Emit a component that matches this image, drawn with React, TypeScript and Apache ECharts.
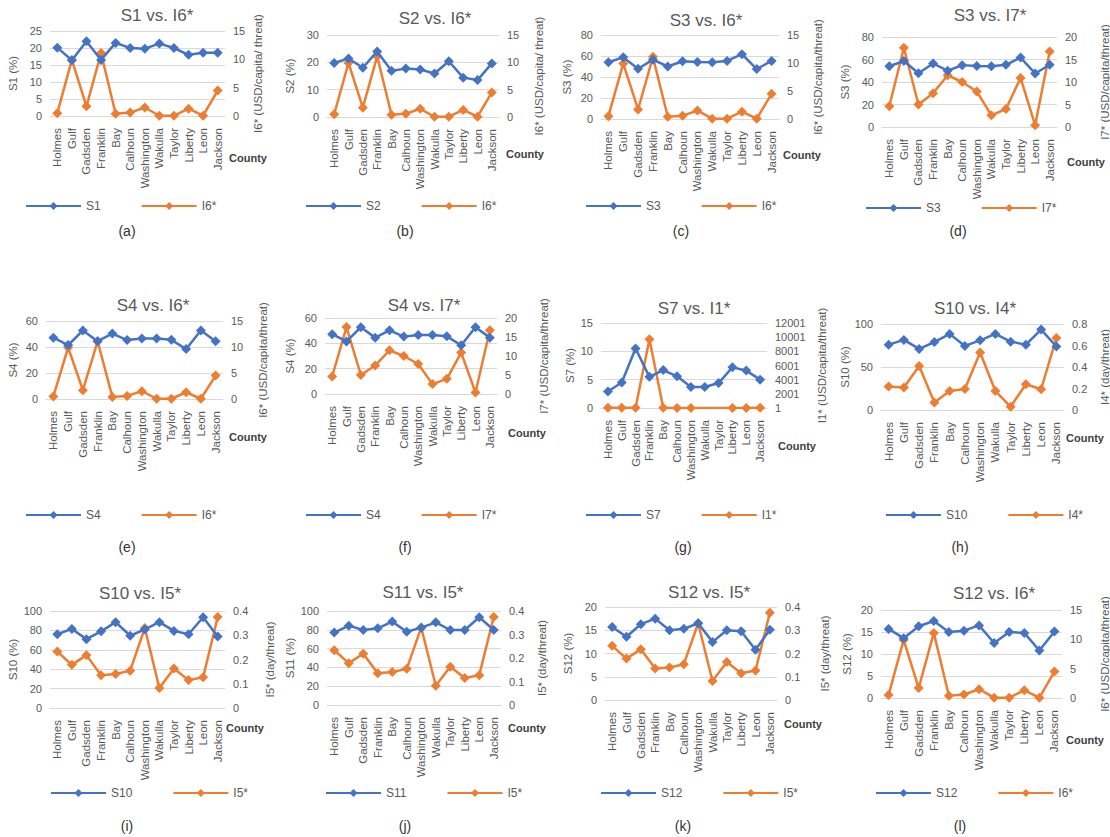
import React, { useEffect, useRef } from "react";
import * as echarts from "echarts";

const categories = ["Holmes", "Gulf", "Gadsden", "Franklin", "Bay", "Calhoun", "Washington", "Wakulla", "Taylor", "Liberty", "Leon", "Jackson"];

const S1 = [20.1, 16.4, 22, 16.5, 21.5, 20, 19.8, 21.3, 20, 18, 18.6, 18.6];
const S2 = [19.8, 21.4, 18, 24, 16.9, 17.7, 17.4, 15.9, 20.4, 14.4, 13.5, 19.6];
const S3 = [54, 58.7, 47.8, 56.5, 50, 55, 54.2, 54, 55.3, 61.7, 47.6, 55.3];
const S4 = [47.2, 41.5, 52.7, 44.5, 50.3, 45.3, 46.5, 46.5, 45.5, 38.5, 52.7, 44.5];
const S7 = [2.9, 4.5, 10.5, 5.5, 6.7, 5.6, 3.7, 3.7, 4.4, 7.2, 6.6, 5];
const S10 = [76, 81.5, 71, 79, 88.5, 74.5, 81, 88.5, 79.5, 76, 93.5, 73.8];
const S11 = [77, 84.4, 79.8, 81.6, 88.7, 78, 82.3, 87.9, 79.8, 79.8, 93.3, 79.8];
const S12 = [15.7, 13.6, 16.3, 17.5, 15, 15.3, 16.5, 12.5, 15, 14.8, 10.8, 15.1];

const I1 = [20, 30, 40, 9700, 20, 15, 10, null, null, 10, 15, 20];
const I4 = [0.218, 0.21, 0.41, 0.07, 0.177, 0.196, 0.535, 0.177, 0.03, 0.24, 0.193, 0.67];
const I5 = [0.233, 0.178, 0.218, 0.135, 0.14, 0.154, 0.33, 0.082, 0.163, 0.115, 0.127, 0.375];
const I6 = [0.5, 9.9, 1.7, 11.1, 0.4, 0.6, 1.5, 0.05, 0.05, 1.3, 0.05, 4.5];
const I7 = [4.6, 17.6, 5, 7.5, 11.5, 10, 7.9, 2.6, 4, 10.9, 0.4, 16.8];

const panelLabels = ["(a)", "(b)", "(c)", "(d)", "(e)", "(f)", "(g)", "(h)", "(i)", "(j)", "(k)", "(l)"];

type Panel = {
  title: string; lname: string; ldata: (number | null)[]; rname: string; rdata: (number | null)[];
  lmin: number; lmax: number; lint: number; rmin: number; rmax: number; rint: number;
  lAxis: string; rAxis: string;
};

const panels: Panel[] = [
  { title: "S1 vs. I6*", lname: "S1", ldata: S1, rname: "I6*", rdata: I6, lmin: 0, lmax: 25, lint: 5, rmin: 0, rmax: 15, rint: 5, lAxis: "S1 (%)", rAxis: "I6* (USD/capita/ threat)" },
  { title: "S2 vs. I6*", lname: "S2", ldata: S2, rname: "I6*", rdata: I6, lmin: 0, lmax: 30, lint: 10, rmin: 0, rmax: 15, rint: 5, lAxis: "S2 (%)", rAxis: "I6* (USD/capita/ threat)" },
  { title: "S3 vs. I6*", lname: "S3", ldata: S3, rname: "I6*", rdata: I6, lmin: 0, lmax: 80, lint: 20, rmin: 0, rmax: 15, rint: 5, lAxis: "S3 (%)", rAxis: "I6* (USD/capita/threat)" },
  { title: "S3 vs. I7*", lname: "S3", ldata: S3, rname: "I7*", rdata: I7, lmin: 0, lmax: 80, lint: 20, rmin: 0, rmax: 20, rint: 5, lAxis: "S3 (%)", rAxis: "I7* (USD/capita/threat)" },
  { title: "S4 vs. I6*", lname: "S4", ldata: S4, rname: "I6*", rdata: I6, lmin: 0, lmax: 60, lint: 20, rmin: 0, rmax: 15, rint: 5, lAxis: "S4 (%)", rAxis: "I6* (USD/capita/threat)" },
  { title: "S4 vs. I7*", lname: "S4", ldata: S4, rname: "I7*", rdata: I7, lmin: 0, lmax: 60, lint: 20, rmin: 0, rmax: 20, rint: 5, lAxis: "S4 (%)", rAxis: "I7* (USD/capita/threat)" },
  { title: "S7 vs. I1*", lname: "S7", ldata: S7, rname: "I1*", rdata: I1, lmin: 0, lmax: 15, lint: 5, rmin: 1, rmax: 12001, rint: 2000, lAxis: "S7 (%)", rAxis: "I1* (USD/capita/threat)" },
  { title: "S10 vs. I4*", lname: "S10", ldata: S10, rname: "I4*", rdata: I4, lmin: 0, lmax: 100, lint: 50, rmin: 0, rmax: 0.8, rint: 0.2, lAxis: "S10 (%)", rAxis: "I4* (day/threat)" },
  { title: "S10 vs. I5*", lname: "S10", ldata: S10, rname: "I5*", rdata: I5, lmin: 0, lmax: 100, lint: 20, rmin: 0, rmax: 0.4, rint: 0.1, lAxis: "S10 (%)", rAxis: "I5* (day/threat)" },
  { title: "S11 vs. I5*", lname: "S11", ldata: S11, rname: "I5*", rdata: I5, lmin: 0, lmax: 100, lint: 20, rmin: 0, rmax: 0.4, rint: 0.1, lAxis: "S11 (%)", rAxis: "I5* (day/threat)" },
  { title: "S12 vs. I5*", lname: "S12", ldata: S12, rname: "I5*", rdata: I5, lmin: 0, lmax: 20, lint: 5, rmin: 0, rmax: 0.4, rint: 0.1, lAxis: "S12 (%)", rAxis: "I5* (day/threat)" },
  { title: "S12 vs. I6*", lname: "S12", ldata: S12, rname: "I6*", rdata: I6, lmin: 0, lmax: 20, lint: 5, rmin: 0, rmax: 15, rint: 5, lAxis: "S12 (%)", rAxis: "I6* (USD/capita/threat)" },
];

// layout: grid box, title pos, legend pos, County pos, sub-label pos, axis name gaps
const layout = [
  { l: 50, t: 31, w: 175, b: 116, tx: 157, ty: 15, lgx: 20, lgy: 201, cx: 248, cy: 158, sx: 127, sy: 231, lg: 31, rg: 27 },
  { l: 327, t: 35, w: 172, b: 117, tx: 435, ty: 18, lgx: 300, lgy: 201, cx: 525, cy: 154, sx: 405, sy: 231, lg: 31, rg: 34 },
  { l: 601, t: 35, w: 178, b: 119, tx: 706, ty: 20, lgx: 580, lgy: 201, cx: 802, cy: 155, sx: 681, sy: 231, lg: 28, rg: 33 },
  { l: 882, t: 37, w: 175, b: 127, tx: 990, ty: 15, lgx: 860, lgy: 203, cx: 1086, cy: 162, sx: 958, sy: 231, lg: 31, rg: 42 },
  { l: 46, t: 321, w: 177, b: 399, tx: 153, ty: 305, lgx: 20, lgy: 510, cx: 248, cy: 437, sx: 127, sy: 547, lg: 27, rg: 34 },
  { l: 325, t: 318, w: 172, b: 394, tx: 424, ty: 305, lgx: 300, lgy: 510, cx: 527, cy: 433, sx: 405, sy: 547, lg: 29, rg: 41 },
  { l: 601, t: 323, w: 166, b: 408, tx: 694, ty: 308, lgx: 580, lgy: 510, cx: 797, cy: 446, sx: 683, sy: 547, lg: 25, rg: 49 },
  { l: 881, t: 324, w: 183, b: 410, tx: 975, ty: 308, lgx: 880, lgy: 510, cx: 1085, cy: 438, sx: 960, sy: 547, lg: 28, rg: 35 },
  { l: 50, t: 611, w: 175, b: 708, tx: 140, ty: 593, lgx: 45, lgy: 788, cx: 245, cy: 728, sx: 127, sy: 826, lg: 31, rg: 39 },
  { l: 327, t: 611, w: 174, b: 705, tx: 423, ty: 592, lgx: 320, lgy: 788, cx: 527, cy: 728, sx: 405, sy: 826, lg: 31, rg: 35 },
  { l: 605, t: 607, w: 172, b: 700, tx: 709, ty: 592, lgx: 595, lgy: 788, cx: 803, cy: 724, sx: 683, sy: 826, lg: 31, rg: 42 },
  { l: 881, t: 610, w: 181, b: 698, tx: 994, ty: 593, lgx: 870, lgy: 788, cx: 1085, cy: 740, sx: 960, sy: 826, lg: 28, rg: 37 },
];

const BLUE = "#4472C4";
const ORANGE = "#ED7D31";
const GRAY = "#595959";
const FONT = "'Liberation Sans', Arial, sans-serif";

function buildOption() {
  const grid: any[] = [];
  const xAxis: any[] = [];
  const yAxis: any[] = [];
  const series: any[] = [];
  const legend: any[] = [];
  const graphic: any[] = [];

  panels.forEach((p, i) => {
    const L = layout[i];
    grid.push({ left: L.l, top: L.t, width: L.w, height: L.b - L.t, containLabel: false, outerBoundsMode: "none" });
    xAxis.push({
      type: "category", gridIndex: i, data: categories, boundaryGap: true,
      axisLine: { show: true, lineStyle: { color: "#D9D9D9" } },
      axisTick: { show: false },
      axisLabel: { interval: 0, rotate: 90, color: GRAY, fontSize: 11.5, fontFamily: FONT, margin: 12 },
    });
    const axisBase = {
      type: "value", gridIndex: i,
      axisLine: { show: false }, axisTick: { show: false },
      nameLocation: "middle", nameRotate: 90,
      nameTextStyle: { color: GRAY, fontSize: 11.5, fontFamily: FONT },
      axisLabel: { color: GRAY, fontSize: 11, fontFamily: FONT, margin: 8, formatter: (v: number) => String(Math.round(v * 1000) / 1000) },
    };
    yAxis.push({
      ...axisBase, position: "left", min: p.lmin, max: p.lmax, interval: p.lint,
      name: p.lAxis, nameGap: L.lg,
      splitLine: { show: true, lineStyle: { color: "#D9D9D9", width: 1 } },
    });
    yAxis.push({
      ...axisBase, position: "right", min: p.rmin, max: p.rmax, interval: p.rint,
      name: p.rAxis, nameGap: L.rg,
      splitLine: { show: false },
    });
    const common = { type: "line", xAxisIndex: i, symbol: "diamond", symbolSize: 10, connectNulls: true };
    series.push({
      ...common, name: p.lname, yAxisIndex: 2 * i, data: p.ldata, z: 3,
      lineStyle: { color: BLUE, width: 2.5 }, itemStyle: { color: BLUE },
    });
    series.push({
      ...common, name: p.rname, yAxisIndex: 2 * i + 1, data: p.rdata, z: 2,
      lineStyle: { color: ORANGE, width: 2.5 }, itemStyle: { color: ORANGE },
    });
    legend.push({
      data: [p.lname, p.rname], left: L.lgx, top: L.lgy - 6, itemWidth: 55, itemHeight: 10, itemGap: 40,
      textStyle: { color: GRAY, fontSize: 12, fontFamily: FONT }, selectedMode: false,
    });
    graphic.push({
      type: "text", x: L.tx, y: L.ty,
      style: { text: p.title, fill: GRAY, font: `17px ${FONT}`, textAlign: "center", textVerticalAlign: "middle" },
    });
    graphic.push({
      type: "text", x: L.cx, y: L.cy,
      style: { text: "County", fill: "#404040", font: `bold 11px ${FONT}`, textAlign: "center", textVerticalAlign: "middle" },
    });
    graphic.push({
      type: "text", x: L.sx, y: L.sy,
      style: { text: panelLabels[i], fill: "#333333", font: `14px ${FONT}`, textAlign: "center", textVerticalAlign: "middle" },
    });
  });

  return {
    animation: false,
    backgroundColor: "#ffffff",
    grid, xAxis, yAxis, series, legend, graphic,
  };
}

export default function App() {
  const ref = useRef<HTMLDivElement>(null);
  useEffect(() => {
    if (!ref.current) return;
    const chart = echarts.init(ref.current, null, { renderer: "svg" });
    chart.setOption(buildOption() as any);
    return () => chart.dispose();
  }, []);
  return (
    <div
      ref={ref}
      style={{ position: "absolute", left: 0, top: 0, width: 1110, height: 837, background: "#fff" }}
    />
  );
}
